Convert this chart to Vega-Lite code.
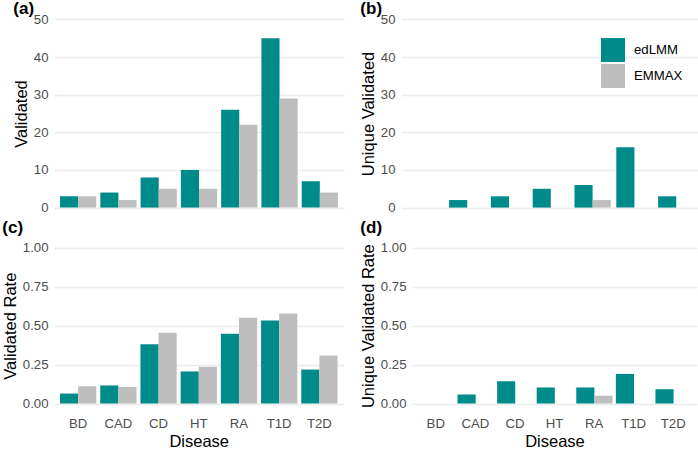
{
  "$schema": "https://vega.github.io/schema/vega-lite/v6.json",
  "padding": {"left": 2, "top": 0, "right": 0, "bottom": 2},
  "background": "white",
  "data": {"values": [
    {"disease": "BD", "method": "edLMM", "validated": 3, "unique": 0, "rate": 0.064, "urate": 0},
    {"disease": "BD", "method": "EMMAX", "validated": 3, "unique": 0, "rate": 0.111, "urate": 0},
    {"disease": "CAD", "method": "edLMM", "validated": 4, "unique": 2, "rate": 0.116, "urate": 0.058},
    {"disease": "CAD", "method": "EMMAX", "validated": 2, "unique": 0, "rate": 0.107, "urate": 0},
    {"disease": "CD", "method": "edLMM", "validated": 8, "unique": 3, "rate": 0.381, "urate": 0.143},
    {"disease": "CD", "method": "EMMAX", "validated": 5, "unique": 0, "rate": 0.454, "urate": 0},
    {"disease": "HT", "method": "edLMM", "validated": 10, "unique": 5, "rate": 0.206, "urate": 0.103},
    {"disease": "HT", "method": "EMMAX", "validated": 5, "unique": 0, "rate": 0.236, "urate": 0},
    {"disease": "RA", "method": "edLMM", "validated": 26, "unique": 6, "rate": 0.448, "urate": 0.103},
    {"disease": "RA", "method": "EMMAX", "validated": 22, "unique": 2, "rate": 0.55, "urate": 0.05},
    {"disease": "T1D", "method": "edLMM", "validated": 45, "unique": 16, "rate": 0.533, "urate": 0.19},
    {"disease": "T1D", "method": "EMMAX", "validated": 29, "unique": 0, "rate": 0.578, "urate": 0},
    {"disease": "T2D", "method": "edLMM", "validated": 7, "unique": 3, "rate": 0.218, "urate": 0.092},
    {"disease": "T2D", "method": "EMMAX", "validated": 4, "unique": 0, "rate": 0.308, "urate": 0}
  ]},
  "concat": [
    {
      "width": 290, "height": 207,
      "title": {"text": "(a)", "offset": -8},
      "layer": [
        {"mark": {"type": "bar"},
         "encoding": {
           "x": {"field": "disease", "type": "nominal", "scale": {"paddingInner": 0.1, "paddingOuter": 0.15}, "axis": {"labels": false, "title": null, "bandPosition": 0.5}},
           "xOffset": {"field": "method", "type": "nominal", "sort": ["edLMM", "EMMAX"], "scale": {"paddingInner": 0, "paddingOuter": 0}},
           "y": {"field": "validated", "type": "quantitative", "scale": {"domain": [-2.5, 52.5], "nice": false, "zero": false}, "axis": {"values": [0, 10, 20, 30, 40, 50], "title": "Validated"}},
           "y2": {"datum": 0},
           "color": {"field": "method", "type": "nominal", "sort": ["edLMM", "EMMAX"], "scale": {"domain": ["edLMM", "EMMAX"], "range": ["#008B8B", "#BEBEBE"]}, "legend": null}
         }},
        {"mark": {"type": "bar", "opacity": 0},
         "encoding": {
           "x": {"field": "disease", "type": "nominal", "scale": {"paddingInner": 0.1, "paddingOuter": 0.15}, "axis": {"labels": false, "title": null, "bandPosition": 0.5}},
           "xOffset": {"field": "method", "type": "nominal", "sort": ["edLMM", "EMMAX"], "scale": {"paddingInner": 0, "paddingOuter": 0}},
           "y": {"field": "validated", "type": "quantitative", "axis": {"orient": "left", "values": [5, 15, 25, 35, 45], "labels": false, "title": null, "gridWidth": 0.7}},
           "y2": {"datum": 0}
         }}
      ],
      "resolve": {"axis": {"y": "independent"}}
    },
    {
      "width": 301, "height": 207,
      "title": {"text": "(b)", "offset": -8},
      "layer": [
        {"mark": {"type": "bar"},
         "encoding": {
           "x": {"field": "disease", "type": "nominal", "scale": {"paddingInner": 0.1, "paddingOuter": 0.15}, "axis": {"labels": false, "title": null, "bandPosition": 0.5}},
           "xOffset": {"field": "method", "type": "nominal", "sort": ["edLMM", "EMMAX"], "scale": {"paddingInner": 0, "paddingOuter": 0}},
           "y": {"field": "unique", "type": "quantitative", "scale": {"domain": [-2.5, 52.5], "nice": false, "zero": false}, "axis": {"values": [0, 10, 20, 30, 40, 50], "title": "Unique Validated"}},
           "y2": {"datum": 0},
           "color": {"field": "method", "type": "nominal", "sort": ["edLMM", "EMMAX"], "scale": {"domain": ["edLMM", "EMMAX"], "range": ["#008B8B", "#BEBEBE"]},
             "legend": {"orient": "none", "legendX": 200, "legendY": 28, "title": null, "symbolType": "square", "symbolSize": 576, "symbolStrokeWidth": 0, "symbolOpacity": 1, "labelFontSize": 13.2, "labelColor": "#000000", "labelOffset": 9, "rowPadding": 2, "padding": 0}}
         }},
        {"mark": {"type": "bar", "opacity": 0},
         "encoding": {
           "x": {"field": "disease", "type": "nominal", "scale": {"paddingInner": 0.1, "paddingOuter": 0.15}, "axis": {"labels": false, "title": null, "bandPosition": 0.5}},
           "xOffset": {"field": "method", "type": "nominal", "sort": ["edLMM", "EMMAX"], "scale": {"paddingInner": 0, "paddingOuter": 0}},
           "y": {"field": "unique", "type": "quantitative", "axis": {"orient": "left", "values": [5, 15, 25, 35, 45], "labels": false, "title": null, "gridWidth": 0.7}},
           "y2": {"datum": 0}
         }}
      ],
      "resolve": {"axis": {"y": "independent"}}
    },
    {
      "width": 289.5, "height": 171.3,
      "title": {"text": "(c)", "offset": 3},
      "layer": [
        {"mark": {"type": "bar"},
         "encoding": {
           "x": {"field": "disease", "type": "nominal", "scale": {"paddingInner": 0.1, "paddingOuter": 0.15}, "axis": {"labelAngle": 0, "title": "Disease", "bandPosition": 0.5, "labelPadding": 6, "titlePadding": 4}},
           "xOffset": {"field": "method", "type": "nominal", "sort": ["edLMM", "EMMAX"], "scale": {"paddingInner": 0, "paddingOuter": 0}},
           "y": {"field": "rate", "type": "quantitative", "scale": {"domain": [-0.05, 1.05], "nice": false, "zero": false}, "axis": {"values": [0, 0.25, 0.5, 0.75, 1], "format": ".2f", "title": "Validated Rate"}},
           "y2": {"datum": 0},
           "color": {"field": "method", "type": "nominal", "sort": ["edLMM", "EMMAX"], "scale": {"domain": ["edLMM", "EMMAX"], "range": ["#008B8B", "#BEBEBE"]}, "legend": null}
         }},
        {"mark": {"type": "bar", "opacity": 0},
         "encoding": {
           "x": {"field": "disease", "type": "nominal", "scale": {"paddingInner": 0.1, "paddingOuter": 0.15}, "axis": {"labelAngle": 0, "title": "Disease", "bandPosition": 0.5, "labelPadding": 6, "titlePadding": 4}},
           "xOffset": {"field": "method", "type": "nominal", "sort": ["edLMM", "EMMAX"], "scale": {"paddingInner": 0, "paddingOuter": 0}},
           "y": {"field": "rate", "type": "quantitative", "axis": {"orient": "left", "values": [0.125, 0.375, 0.625, 0.875], "labels": false, "title": null, "gridWidth": 0.7}},
           "y2": {"datum": 0}
         }}
      ],
      "resolve": {"axis": {"y": "independent"}}
    },
    {
      "width": 285, "height": 171.3,
      "title": {"text": "(d)", "offset": 3},
      "layer": [
        {"mark": {"type": "bar"},
         "encoding": {
           "x": {"field": "disease", "type": "nominal", "scale": {"paddingInner": 0.1, "paddingOuter": 0.15}, "axis": {"labelAngle": 0, "title": "Disease", "bandPosition": 0.5, "labelPadding": 6, "titlePadding": 4}},
           "xOffset": {"field": "method", "type": "nominal", "sort": ["edLMM", "EMMAX"], "scale": {"paddingInner": 0, "paddingOuter": 0}},
           "y": {"field": "urate", "type": "quantitative", "scale": {"domain": [-0.05, 1.05], "nice": false, "zero": false}, "axis": {"values": [0, 0.25, 0.5, 0.75, 1], "format": ".2f", "title": "Unique Validated Rate"}},
           "y2": {"datum": 0},
           "color": {"field": "method", "type": "nominal", "sort": ["edLMM", "EMMAX"], "scale": {"domain": ["edLMM", "EMMAX"], "range": ["#008B8B", "#BEBEBE"]}, "legend": null}
         }},
        {"mark": {"type": "bar", "opacity": 0},
         "encoding": {
           "x": {"field": "disease", "type": "nominal", "scale": {"paddingInner": 0.1, "paddingOuter": 0.15}, "axis": {"labelAngle": 0, "title": "Disease", "bandPosition": 0.5, "labelPadding": 6, "titlePadding": 4}},
           "xOffset": {"field": "method", "type": "nominal", "sort": ["edLMM", "EMMAX"], "scale": {"paddingInner": 0, "paddingOuter": 0}},
           "y": {"field": "urate", "type": "quantitative", "axis": {"orient": "left", "values": [0.125, 0.375, 0.625, 0.875], "labels": false, "title": null, "gridWidth": 0.7}},
           "y2": {"datum": 0}
         }}
      ],
      "resolve": {"axis": {"y": "independent"}}
    }
  ],
  "columns": 2,
  "align": "none",
  "spacing": {"row": 2, "column": 16},
  "resolve": {"legend": {"color": "independent"}},
  "config": {
    "font": "Liberation Sans",
    "view": {"stroke": null},
    "axis": {"gridColor": "#EBEBEB", "gridWidth": 1.4, "domain": false, "ticks": false, "tickSize": 0, "minExtent": 0, "labelFontSize": 13.2, "labelColor": "#4D4D4D", "labelPadding": 6, "titleFontSize": 16.5, "titleFontWeight": "normal", "titleColor": "#000000", "titlePadding": 4},
    "axisY": {"minExtent": 0},
    "title": {"fontSize": 17, "fontWeight": "bold", "anchor": "start", "color": "#000000"}
  }
}
